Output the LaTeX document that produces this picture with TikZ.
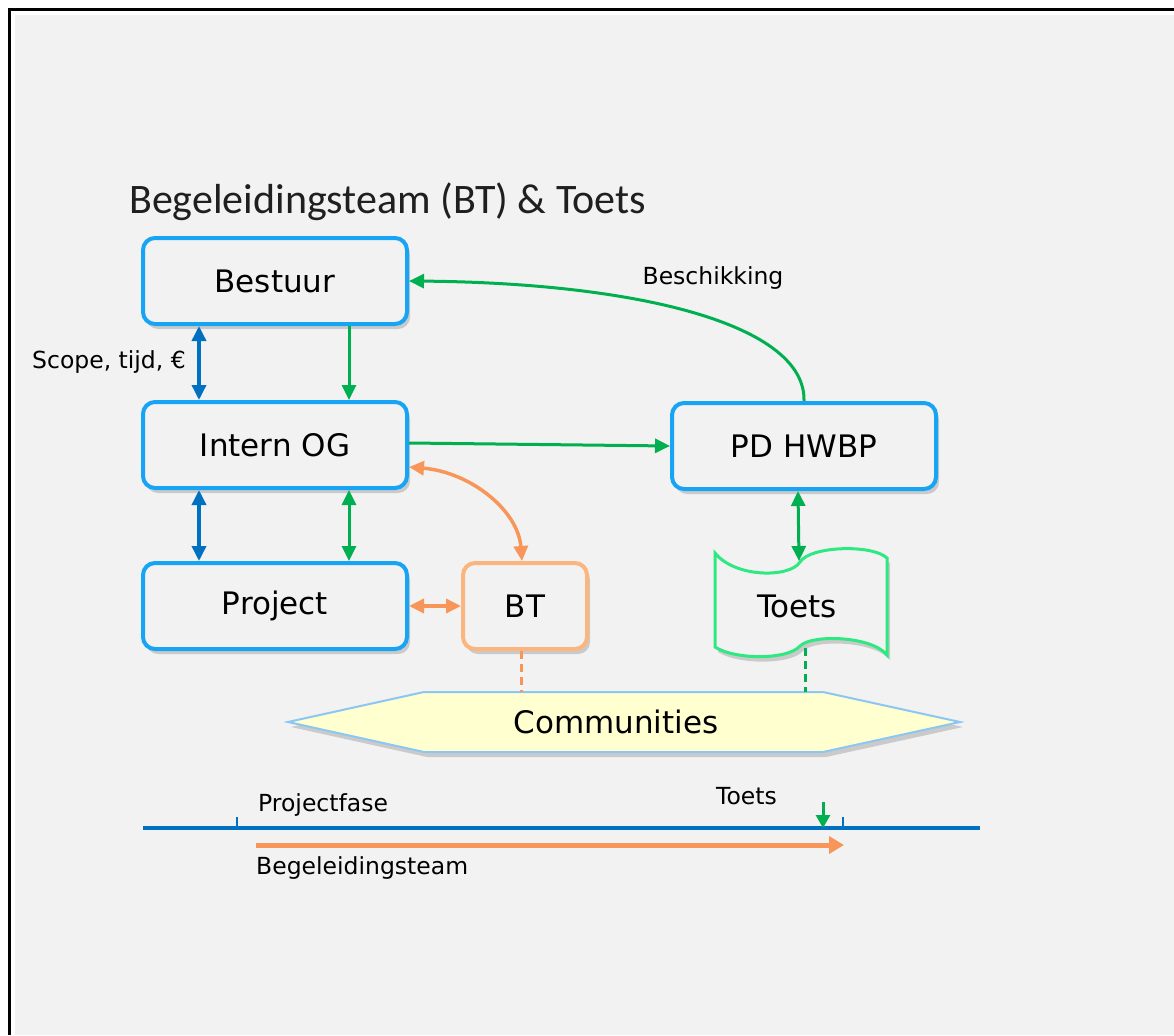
\documentclass[tikz,border=0pt]{standalone}
\usepackage{fontspec}
\setmainfont{DejaVu Sans}
\newfontfamily\titlefont{Carlito}
\usetikzlibrary{arrows.meta,shadows}
\definecolor{bg}{HTML}{F2F2F2}
\definecolor{boxblue}{HTML}{18A4F4}
\definecolor{darkblue}{HTML}{0070C0}
\definecolor{agreen}{HTML}{00B050}
\definecolor{aorange}{HTML}{F8965A}
\definecolor{btorange}{HTML}{FBB57E}
\definecolor{tgreen}{HTML}{2EE882}
\definecolor{commfill}{HTML}{FFFFD0}
\definecolor{commline}{HTML}{8CC6F2}
\tikzset{
  shad/.style={drop shadow={opacity=0.35,shadow xshift=3pt,shadow yshift=-5pt}},
  bluebox/.style={rounded corners=12pt, draw=boxblue, line width=4pt, fill=bg, shad,
    minimum width=264pt, minimum height=86pt, inner sep=0pt,
    font=\fontsize{31}{37}\selectfont},
  btbox/.style={rounded corners=12pt, draw=btorange, line width=4pt, fill=bg, shad,
    minimum width=124pt, minimum height=86pt, inner sep=0pt,
    font=\fontsize{31}{37}\selectfont},
  plain/.style={inner sep=0pt, font=\fontsize{23.5}{28}\selectfont},
  big/.style={inner sep=0pt, font=\fontsize{31}{37}\selectfont},
  tip/.style={-{Triangle[length=15pt,width=14pt]}},
  dtip/.style={{Triangle[length=15pt,width=14pt]}-{Triangle[length=15pt,width=14pt]}},
  garr/.style={draw=agreen, line width=3pt},
  barr/.style={draw=darkblue, line width=3.5pt},
  oarr/.style={draw=aorange, line width=3.5pt},
}
\begin{document}
\begin{tikzpicture}[x=1pt,y=-1pt]
\useasboundingbox (0,0) rectangle (1174,1035);
\fill[white] (0,0) rectangle (1174,1035);
\fill[bg] (15,15) rectangle (1174,1035);
\draw[line width=3pt, black] (9,1035) -- (9,10) -- (1174,10);

% title
\node[inner sep=0pt, anchor=west, font=\titlefont\fontsize{42}{49}\selectfont, text=black!88] (title) at (129,202) {Begeleidingsteam (BT) \& Toets};

% boxes
\node[bluebox] (bestuur) at (275,281) {Bestuur};
\node[bluebox] (intern) at (275,445) {Intern OG};
\node[bluebox] (project) at (275,606) {Project};
\node[btbox] (bt) at (525,606) {BT};
\node[bluebox] (pd) at (804,446) {PD HWBP};

% Toets wave shape
\path[fill=bg, draw=tgreen, line width=3pt, shad]
  (715,553) .. controls (735,578) and (790,578) .. (800,562)
  .. controls (810,546) and (872,544) .. (887,558)
  -- (887,655)
  .. controls (872,636) and (812,634) .. (800,646)
  .. controls (788,660) and (735,660) .. (715,647) -- cycle;
\node[big] (toets) at (797,606) {Toets};
\coordinate (toetsTop) at (799,561);
\coordinate (toetsBot) at (805,648);

% Communities hexagon
\path[fill=commfill, draw=commline, line width=2pt, shad]
  (288,722) -- (424,692) -- (823,692) -- (960,722) -- (823,752) -- (424,752) -- cycle;
\node[big] (comm) at (616,722) {Communities};
\coordinate (commBT) at (521,692);
\coordinate (commT) at (805,692);

% connectors
\draw[barr,dtip] ([xshift=-76pt]bestuur.south) -- ([xshift=-76pt]intern.north);
\draw[garr,tip] ([xshift=74pt]bestuur.south) -- ([xshift=74pt]intern.north);
\draw[barr,dtip] ([xshift=-76pt]intern.south) -- ([xshift=-76pt]project.north);
\draw[garr,dtip] ([xshift=74pt]intern.south) -- ([xshift=74pt]project.north);
\draw[garr,tip] ([yshift=2pt]intern.east) -- (pd.west);
\draw[garr,tip] (pd.north) .. controls (806,325) and (640,283) .. (bestuur.east);
\node[plain] (besch) at (713,278) {Beschikking};
\node[plain, anchor=east] (scope) at (186,362) {Scope, tijd, €};
\draw[oarr,dtip] ([yshift=-22pt]intern.east) .. controls (470,472) and (518,510) .. ([xshift=-3pt]bt.north);
\draw[oarr,dtip] (project.east) -- (bt.west);
\draw[garr,dtip] ([xshift=-6pt]pd.south) -- (toetsTop);
\draw[oarr,line width=3pt,dash pattern=on 8pt off 5pt] ([xshift=-4pt]bt.south) -- (commBT);
\draw[garr,line width=3pt,dash pattern=on 8pt off 5pt] (toetsBot) -- (commT);

% timeline
\coordinate (tlL) at (143,828);
\coordinate (tlR) at (980,828);
\draw[darkblue, line width=3.5pt] (tlL) -- (tlR);
\coordinate (tick1) at (237,817);
\coordinate (tick1b) at (237,828);
\coordinate (tick2) at (843,817);
\coordinate (tick2b) at (843,828);
\draw[darkblue, line width=2.5pt] (tick1) -- (tick1b);
\draw[darkblue, line width=2.5pt] (tick2) -- (tick2b);
\coordinate (gtop) at (823,802);
\coordinate (gbot) at (823,828);
\draw[garr, line width=3pt, -{Triangle[length=13pt,width=14pt]}] (gtop) -- (gbot);
\coordinate (oL) at (256,845);
\coordinate (oR) at (844,845);
\draw[oarr, line width=5pt, -{Triangle[length=15pt,width=17pt]}] (oL) -- (oR);
\node[plain, anchor=west] (pf) at (258,805) {Projectfase};
\node[plain, anchor=west] (tt) at (716,796) {Toets};
\node[plain, anchor=west] (bg) at (256,868) {Begeleidingsteam};
\end{tikzpicture}
\end{document}
